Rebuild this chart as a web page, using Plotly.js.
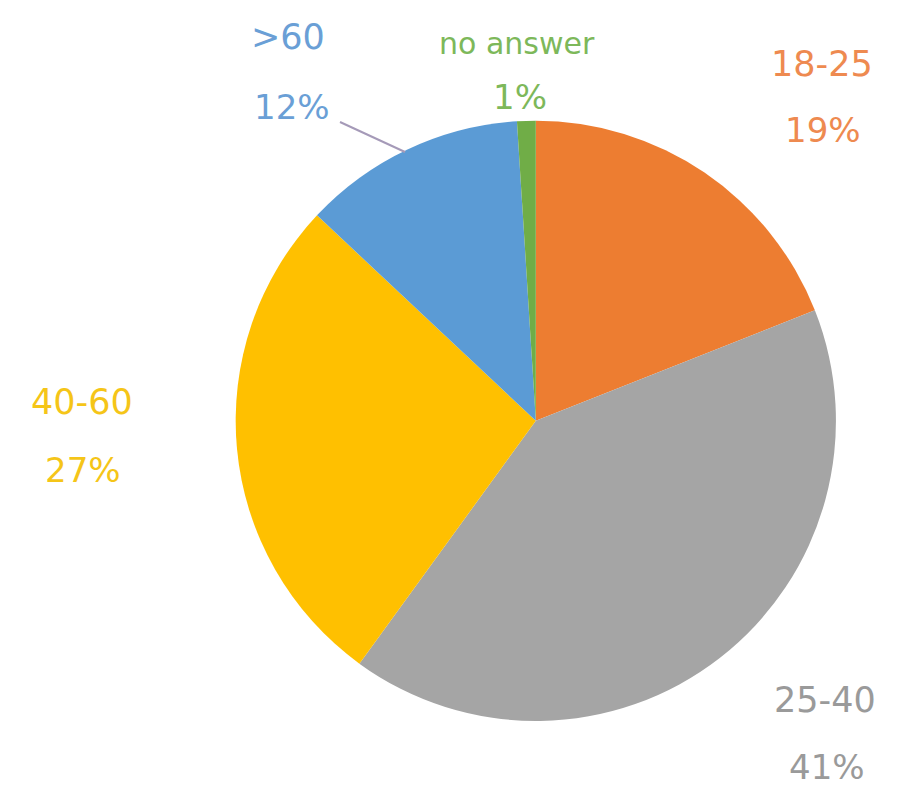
<!DOCTYPE html>
<html>
<head>
<meta charset="utf-8">
<script src="https://cdn.plot.ly/plotly-3.0.1.min.js"></script>
<style>html,body{margin:0;padding:0;background:#fff;}#chart{width:899px;height:794px;}</style>
</head>
<body>
<div id="chart"></div>
<script>
var categories = ["18-25", "25-40", "40-60", ">60", "no answer"];
var values = [19, 41, 27, 12, 1];
var percentLabels = ["19%", "41%", "27%", "12%", "1%"];
var sliceColors = ["#ED7D31", "#A5A5A5", "#FFC000", "#5B9BD5", "#70AD47"];
var textColors = ["#EE8A50", "#9A9A9A", "#F5C518", "#6A9FD6", "#7DB85A"];

// label anchor positions (paper px) for each category name / percent
var namePos = [[822, 64], [825, 700], [82, 402], [288, 37], [517, 44]];
var pctPos = [[823, 130], [827, 767], [83, 470], [292, 107], [520, 97]];
var nameSizes = [35, 35, 35, 35, 30];

var W = 899, H = 794;
var annotations = [];
for (var i = 0; i < categories.length; i++) {
  annotations.push({
    text: categories[i], xref: "paper", yref: "paper",
    x: namePos[i][0] / W, y: 1 - namePos[i][1] / H,
    xanchor: "center", yanchor: "middle", showarrow: false,
    font: {family: "DejaVu Sans", size: nameSizes[i], color: textColors[i]}
  });
  annotations.push({
    text: percentLabels[i], xref: "paper", yref: "paper",
    x: pctPos[i][0] / W, y: 1 - pctPos[i][1] / H,
    xanchor: "center", yanchor: "middle", showarrow: false,
    font: {family: "DejaVu Sans", size: 34, color: textColors[i]}
  });
}

var data = [{
  type: "pie",
  labels: categories,
  values: values,
  sort: false,
  direction: "clockwise",
  rotation: 0,
  textinfo: "none",
  hoverinfo: "label+percent",
  marker: {colors: sliceColors, line: {width: 0}},
  domain: {x: [0.196, 0.996], y: [0.092, 0.848]},
  showlegend: false
}];

var layout = {
  width: W, height: H,
  margin: {l: 0, r: 0, t: 0, b: 0},
  paper_bgcolor: "#ffffff",
  showlegend: false,
  annotations: annotations,
  shapes: [{
    type: "line", xref: "paper", yref: "paper",
    x0: 340 / W, y0: 1 - 122 / H, x1: 405 / W, y1: 1 - 152 / H,
    line: {color: "#A59AB8", width: 2}
  }]
};

Plotly.newPlot("chart", data, layout, {displayModeBar: false, staticPlot: true});
</script>
</body>
</html>
